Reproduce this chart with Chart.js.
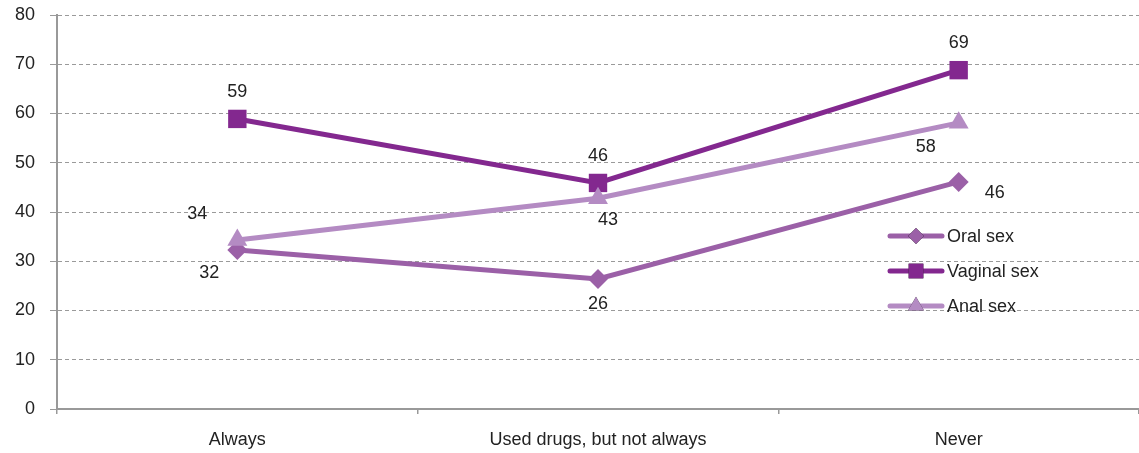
<!DOCTYPE html>
<html>
<head>
<meta charset="utf-8">
<script src="https://cdn.jsdelivr.net/npm/chart.js@4/dist/chart.umd.min.js"></script>
<style>
    html, body { margin: 0; padding: 0; background: #fff; overflow: hidden; }
    #wrap { width: 1139px; height: 453px; position: relative; }
    #chart { display: block; }
</style>
</head>
<body>
<div id="wrap"><canvas id="chart"></canvas></div>
<script>
// categories and series
const categories = ['Always', 'Used drugs, but not always', 'Never'];
const oralValues = [32.3, 26.4, 46.1];
const vaginalValues = [58.9, 45.9, 68.8];
const analValues = [34.3, 42.8, 58.1];
const oralLabels = ['32', '26', '46'];
const vaginalLabels = ['59', '46', '69'];
const analLabels = ['34', '43', '58'];
const yTicks = [0, 10, 20, 30, 40, 50, 60, 70, 80];

const FONT = "'Liberation Sans', Arial, sans-serif";

// where each value label sits relative to its point (dx, dy)
const labelOffsets = {
    'Oral sex': [[-28, 23], [0, 25], [36, 11]],
    'Vaginal sex': [[0, -27], [0, -27], [0, -27]],
    'Anal sex': [[-40, -26], [10, 22], [-33, 24]]
};
const labelTexts = {
    'Oral sex': oralLabels,
    'Vaginal sex': vaginalLabels,
    'Anal sex': analLabels
};

const valueLabels = {
    id: 'valueLabels',
    afterDatasetsDraw(chart) {
        const ctx = chart.ctx;
        ctx.save();
        ctx.font = '18px ' + FONT;
        ctx.fillStyle = '#222';
        ctx.textAlign = 'center';
        ctx.textBaseline = 'middle';
        chart.data.datasets.forEach((ds, i) => {
            const meta = chart.getDatasetMeta(i);
            meta.data.forEach((pt, j) => {
                const off = labelOffsets[ds.label][j];
                ctx.fillText(labelTexts[ds.label][j], pt.x + off[0], pt.y + off[1]);
            });
        });
        ctx.restore();
    }
};

// legend drawn inside the plot area, lower right
const insideLegend = {
    id: 'insideLegend',
    afterDraw(chart) {
        const ctx = chart.ctx;
        const x0 = 890, x1 = 942, textX = 947;
        const rows = [236, 271, 306];
        ctx.save();
        chart.data.datasets.forEach((ds, i) => {
            const y = rows[i];
            ctx.strokeStyle = ds.borderColor;
            ctx.lineWidth = 5;
            ctx.lineCap = 'round';
            ctx.beginPath();
            ctx.moveTo(x0, y);
            ctx.lineTo(x1, y);
            ctx.stroke();
            Chart.helpers.drawPoint(ctx, {
                pointStyle: ds.pointStyle,
                radius: ds.pointRadius * 0.8,
                borderWidth: 0
            }, (x0 + x1) / 2, y);
            ctx.fillStyle = ds.borderColor;
            ctx.fill();
            ctx.fillStyle = '#222';
            ctx.font = '18px ' + FONT;
            ctx.textAlign = 'left';
            ctx.textBaseline = 'middle';
            ctx.fillText(ds.label, textX, y + 1);
        });
        ctx.restore();
    }
};

const oralColor = '#9b60a7';
const vaginalColor = '#83288f';
const analColor = '#b48bc3';

function lineSet(label, data, color, style, radius, order) {
    return {
        label: label,
        data: data,
        borderColor: color,
        backgroundColor: color,
        borderWidth: 5,
        pointStyle: style,
        pointRadius: radius,
        pointHoverRadius: radius,
        pointBorderWidth: 0,
        pointBackgroundColor: color,
        tension: 0,
        order: order
    };
}

new Chart(document.getElementById('chart'), {
    type: 'line',
    data: {
        labels: categories,
        datasets: [
            lineSet('Oral sex', oralValues, oralColor, 'rectRot', 10, 2),
            lineSet('Vaginal sex', vaginalValues, vaginalColor, 'rect', 13, 1),
            lineSet('Anal sex', analValues, analColor, 'triangle', 11.5, 0)
        ]
    },
    options: {
        responsive: true,
        maintainAspectRatio: false,
        animation: false,
        layout: {
            autoPadding: false,
            padding: { top: 15, right: 0, left: 0, bottom: 0 }
        },
        plugins: {
            legend: { display: false },
            tooltip: { enabled: false }
        },
        scales: {
            x: {
                offset: true,
                grid: {
                    offset: true,
                    drawOnChartArea: false,
                    drawTicks: true,
                    tickLength: 5,
                    color: '#999',
                    lineWidth: 1.5
                },
                border: { color: '#999', width: 2 },
                ticks: {
                    color: '#222',
                    font: { family: FONT, size: 18 },
                    padding: 15,
                    maxRotation: 0
                },
                afterFit(scale) {
                    scale.height = 44;
                    scale.paddingLeft = 0;
                    scale.paddingRight = 0;
                }
            },
            y: {
                min: 0,
                max: 80,
                afterBuildTicks(scale) {
                    scale.ticks = yTicks.map(v => ({ value: v }));
                },
                grid: {
                    color: '#9a9a9a',
                    lineWidth: 1,
                    drawTicks: true,
                    tickLength: 7
                },
                border: { color: '#999', width: 2, dash: [4, 3] },
                ticks: {
                    color: '#222',
                    font: { family: FONT, size: 18 },
                    padding: 15
                },
                afterFit(scale) {
                    scale.width = 57;
                    scale.paddingTop = 0;
                    scale.paddingBottom = 0;
                }
            }
        }
    },
    plugins: [valueLabels, insideLegend]
});
</script>
</body>
</html>
